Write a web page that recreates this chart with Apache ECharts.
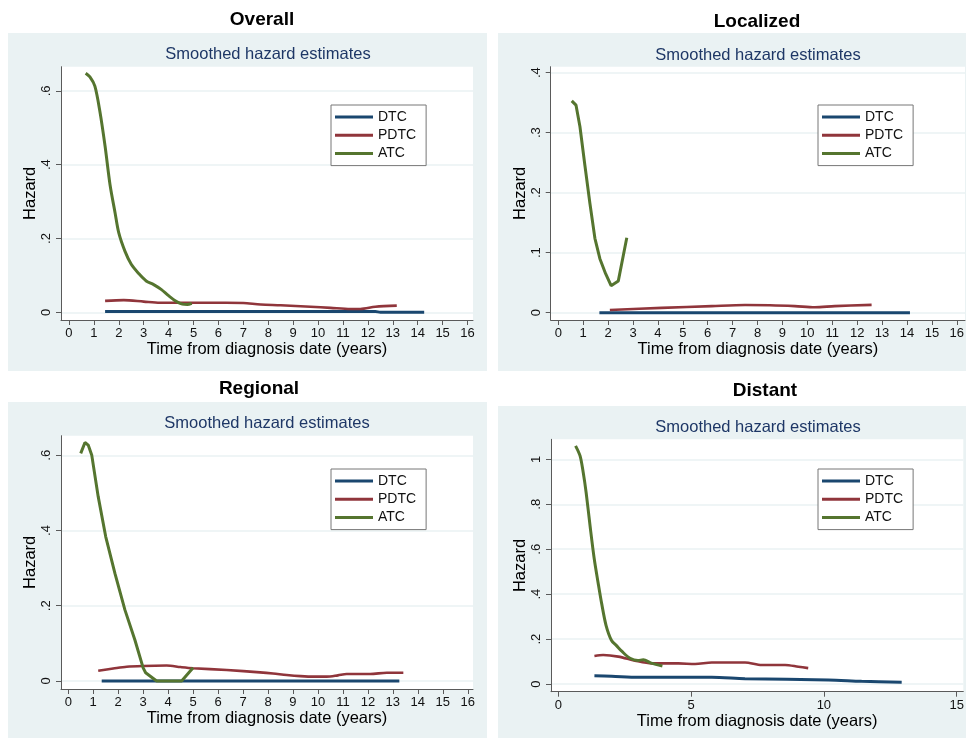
<!DOCTYPE html>
<html>
<head>
<meta charset="utf-8">
<script src="https://cdn.jsdelivr.net/npm/echarts@6/dist/echarts.min.js"></script>
<style>
html,body{margin:0;padding:0;background:#fff;}
#chart{width:969px;height:738px;}
</style>
</head>
<body>
<div id="chart"></div>
<script>
// ---------------- DATA ----------------
const panelTitles = ['Overall', 'Localized', 'Regional', 'Distant'];
const subTitle = 'Smoothed hazard estimates';
const seriesNames = ['DTC', 'PDTC', 'ATC'];
const xName = 'Time from diagnosis date (years)';
const yName = 'Hazard';

const xTicks16 = [0,1,2,3,4,5,6,7,8,9,10,11,12,13,14,15,16];
const xTicksDistant = [0,5,10,15];
const yTicksOverall = [0,0.2,0.4,0.6];
const yTicksLocalized = [0,0.1,0.2,0.3,0.4];
const yTicksRegional = [0,0.2,0.4,0.6];
const yTicksDistant = [0,0.2,0.4,0.6,0.8,1];

// Overall
const overallDtcT = [1.45, 4.0, 8.0, 12.3, 12.5, 14.26];
const overallDtcH = [0.002, 0.002, 0.002, 0.002, 0.0003, 0.0003];
const overallPdtcT = [1.45, 2.2, 3.0, 3.65, 5.0, 6.3, 7.0, 7.7, 8.5, 9.7, 10.5, 11.3, 11.7, 12.3, 13.16];
const overallPdtcH = [0.031, 0.033, 0.029, 0.026, 0.026, 0.026, 0.025, 0.021, 0.019, 0.015, 0.012, 0.009, 0.009, 0.015, 0.018];
const overallAtcT = [0.67, 0.84, 1.04, 1.24, 1.45, 1.65, 1.85, 2.0, 2.25, 2.5, 2.8, 3.1, 3.4, 3.7, 4.0, 4.3, 4.55, 4.75, 4.93];
const overallAtcH = [0.648, 0.638, 0.613, 0.545, 0.45, 0.345, 0.27, 0.215, 0.165, 0.13, 0.105, 0.085, 0.075, 0.062, 0.045, 0.03, 0.022, 0.021, 0.024];

// Localized
const localDtcT = [1.65, 5.0, 10.0, 14.12];
const localDtcH = [0, 0, 0, 0];
const localPdtcT = [2.07, 4.15, 6.16, 7.5, 8.5, 9.5, 10.3, 11.1, 12.58];
const localPdtcH = [0.0045, 0.008, 0.011, 0.0128, 0.0125, 0.011, 0.009, 0.011, 0.013];
const localAtcT = [0.54, 0.71, 0.87, 1.07, 1.27, 1.47, 1.67, 1.9, 2.12, 2.41, 2.75];
const localAtcH = [0.353, 0.346, 0.31, 0.245, 0.182, 0.124, 0.09, 0.065, 0.045, 0.053, 0.125];

// Regional
const regDtcT = [1.34, 5.0, 10.0, 13.26];
const regDtcH = [0, 0, 0, 0];
const regPdtcT = [1.2, 1.8, 2.34, 3.0, 3.94, 4.5, 5.0, 6.35, 7.68, 8.2, 8.75, 9.3, 9.82, 10.35, 10.8, 11.15, 12.09, 12.76, 13.42];
const regPdtcH = [0.027, 0.033, 0.038, 0.04, 0.041, 0.037, 0.034, 0.029, 0.023, 0.02, 0.016, 0.013, 0.0115, 0.0115, 0.015, 0.0186, 0.0186, 0.022, 0.022];
const regAtcT = [0.5, 0.67, 0.8, 0.94, 1.2, 1.5, 1.87, 2.27, 2.67, 3.0, 3.1, 3.54, 4.54, 5.0];
const regAtcH = [0.605, 0.634, 0.627, 0.601, 0.49, 0.384, 0.286, 0.189, 0.109, 0.035, 0.022, 0, 0, 0.035];

// Distant
const distDtcT = [1.36, 2.01, 3.01, 5.78, 7.03, 10.17, 11.42, 12.93];
const distDtcH = [0.037, 0.035, 0.030, 0.030, 0.024, 0.018, 0.012, 0.0075];
const distPdtcT = [1.36, 1.69, 2.26, 2.89, 3.52, 4.52, 5.15, 5.78, 7.03, 7.66, 8.54, 9.04, 9.41];
const distPdtcH = [0.125, 0.129, 0.122, 0.104, 0.092, 0.092, 0.089, 0.096, 0.096, 0.085, 0.085, 0.077, 0.071];
const distAtcT = [0.65, 0.82, 0.94, 1.05, 1.2, 1.35, 1.5, 1.63, 1.8, 2.0, 2.2, 2.4, 2.7, 3.0, 3.2, 3.5, 3.92];
const distAtcH = [1.06, 1.015, 0.94, 0.85, 0.70, 0.56, 0.45, 0.36, 0.26, 0.195, 0.17, 0.145, 0.115, 0.105, 0.108, 0.093, 0.08];

// ---------------- LAYOUT / STYLE ----------------
const FONT = '"Liberation Sans", Arial, sans-serif';
const colors = {DTC: '#1a476f', PDTC: '#90353b', ATC: '#55752f'};
const panelBg = '#eaf2f3';
const axisColor = '#5a5a5a';

const panels = [
  {bg:[8,33,479,338], grid:{left:61, top:66.7, width:412, height:253.3}, xr:[-0.32,16.22], yr:[-0.0209,0.6656],
   xt:xTicks16, yt:yTicksOverall, title:[262,20], sub:[268,54], legend:[331,105],
   data:[[overallDtcT,overallDtcH],[overallPdtcT,overallPdtcH],[overallAtcT,overallAtcH]], smoothAtc:true},
  {bg:[498,33,468,338], grid:{left:550.7, top:66.7, width:414.3, height:253.3}, xr:[-0.305,16.33], yr:[-0.0122,0.41],
   xt:xTicks16, yt:yTicksLocalized, title:[757,22], sub:[758,55], legend:[818,105],
   data:[[localDtcT,localDtcH],[localPdtcT,localPdtcH],[localAtcT,localAtcH]], smoothAtc:false},
  {bg:[8,402,479,336], grid:{left:61, top:435.7, width:412, height:253.3}, xr:[-0.29,16.21], yr:[-0.0213,0.652],
   xt:xTicks16, yt:yTicksRegional, title:[259,389], sub:[267,423.3], legend:[331,469],
   data:[[regDtcT,regDtcH],[regPdtcT,regPdtcH],[regAtcT,regAtcH]], smoothAtc:false},
  {bg:[498,406,468,332], grid:{left:551, top:439.3, width:412.3, height:252.4}, xr:[-0.275,15.25], yr:[-0.034,1.089],
   xt:xTicksDistant, yt:yTicksDistant, title:[765,391], sub:[758,427.3], legend:[818,469],
   data:[[distDtcT,distDtcH],[distPdtcT,distPdtcH],[distAtcT,distAtcH]], smoothAtc:true}
];

function fmtTick(v){
  if (v === 0) return '0';
  const s = String(Math.round(v*100)/100);
  return s.startsWith('0.') ? s.slice(1) : s;
}
function zip(t,h){ return t.map((x,i)=>[x,h[i]]); }

const grids=[], xAxes=[], yAxes=[], series=[], legends=[], graphics=[];

panels.forEach((p, i) => {
  graphics.push({type:'rect', z:-10, shape:{x:p.bg[0], y:p.bg[1], width:p.bg[2], height:p.bg[3]}, style:{fill:panelBg}, silent:true});
  graphics.push({type:'text', z:10, x:p.title[0], y:p.title[1], style:{text:panelTitles[i], font:'bold 19px '+FONT, fill:'#000', textAlign:'center', textVerticalAlign:'middle'}});
  graphics.push({type:'text', z:10, x:p.sub[0], y:p.sub[1], style:{text:subTitle, font:'16.5px '+FONT, fill:'#1e3766', textAlign:'center', textVerticalAlign:'middle'}});

  grids.push(Object.assign({show:true, backgroundColor:'#ffffff', borderWidth:0}, p.grid));
  xAxes.push({
    type:'value', gridIndex:i, min:p.xr[0], max:p.xr[1],
    name:xName, nameLocation:'middle', nameGap:18,
    nameTextStyle:{fontFamily:FONT, fontSize:16.5, color:'#000'},
    axisLine:{show:true, onZero:false, lineStyle:{color:axisColor, width:1}},
    axisTick:{show:true, customValues:p.xt, length:5, lineStyle:{color:axisColor}},
    axisLabel:{show:true, customValues:p.xt, formatter:fmtTick, fontFamily:FONT, fontSize:13, color:'#111', margin:7},
    splitLine:{show:false}
  });
  yAxes.push({
    type:'value', gridIndex:i, min:p.yr[0], max:p.yr[1],
    name:yName, nameLocation:'middle', nameGap:21,
    nameTextStyle:{fontFamily:FONT, fontSize:16.5, color:'#000'},
    axisLine:{show:true, onZero:false, lineStyle:{color:axisColor, width:1}},
    axisTick:{show:true, customValues:p.yt, length:5, lineStyle:{color:axisColor}},
    axisLabel:{show:true, customValues:p.yt, formatter:fmtTick, rotate:90, fontFamily:FONT, fontSize:13, color:'#111', margin:8},
    splitLine:{show:true, lineStyle:{color:panelBg, width:1.5}}
  });
  seriesNames.forEach((nm, k) => {
    series.push({
      type:'line', name:nm, xAxisIndex:i, yAxisIndex:i,
      data:zip(p.data[k][0], p.data[k][1]),
      showSymbol:false, symbol:'none',
      smooth: (k===2 ? (p.smoothAtc ? 0.3 : false) : 0.3),
      lineStyle:{color:colors[nm], width:(k===1?2.6:3)},
      itemStyle:{color:colors[nm]},
      z: (k===2?4:3)
    });
  });
  legends.push({
    left:p.legend[0], top:p.legend[1], orient:'vertical',
    data:seriesNames, icon:'rect', itemWidth:38, itemHeight:3, itemGap:1.3,
    padding:[3.5,10,3.5,4], borderColor:'#777', borderWidth:1, backgroundColor:'#fff',
    textStyle:{fontFamily:FONT, fontSize:14, color:'#111', lineHeight:17},
    selectedMode:false
  });
});

const chart = echarts.init(document.getElementById('chart'), null, {renderer:'canvas'});
chart.setOption({
  backgroundColor:'#ffffff',
  animation:false,
  grid:grids, xAxis:xAxes, yAxis:yAxes, series:series, legend:legends,
  graphic:{elements:graphics}
});
</script>
</body>
</html>
